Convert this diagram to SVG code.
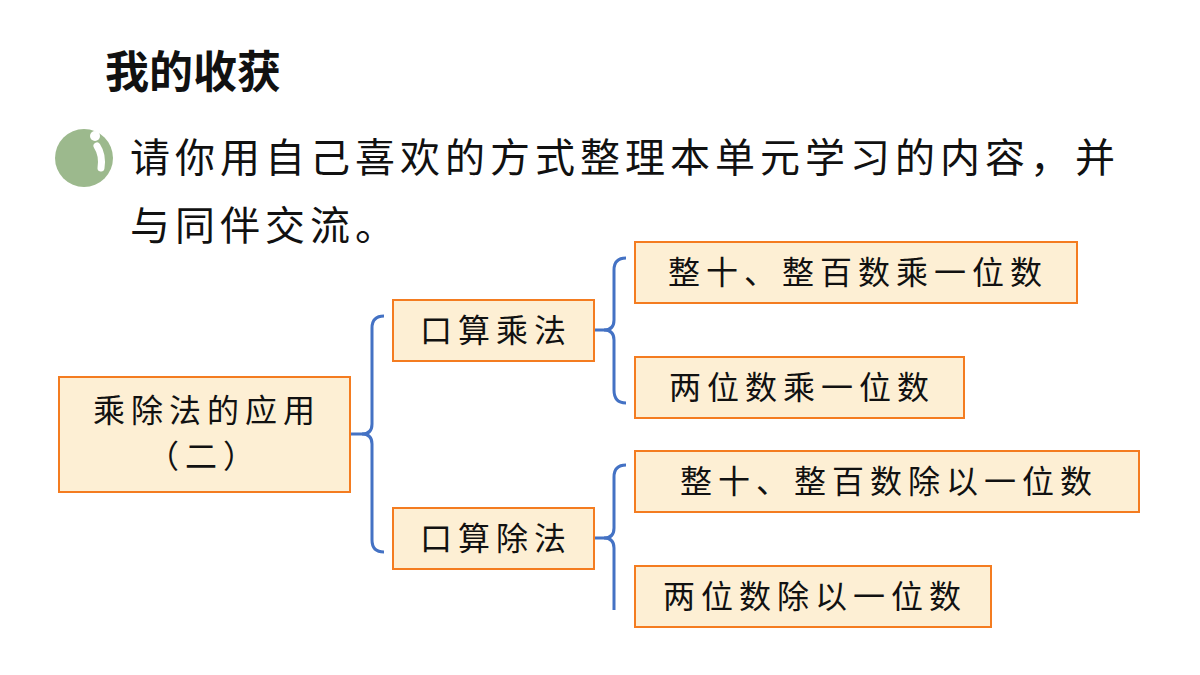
<svg xmlns="http://www.w3.org/2000/svg" width="1200" height="675" viewBox="0 0 1200 675">
<style>
.b{fill:#fdefd4;stroke:#f47c20;stroke-width:2}
.t{font-family:"Noto Sans CJK SC",sans-serif;font-size:32px;fill:#111;text-anchor:middle;letter-spacing:6px}
.c{fill:none;stroke:#4472c4;stroke-width:3}
</style>
<rect width="1200" height="675" fill="#fff"/>
<text x="105" y="88" font-family="Noto Sans CJK SC,sans-serif" font-size="44" font-weight="bold" fill="#111">我的收获</text>
<circle cx="84" cy="158" r="29" fill="#9cb98d"/>
<circle cx="95" cy="136" r="5" fill="#fff"/>
<path d="M97 146 Q103 155 101 168" stroke="#fff" stroke-width="7" stroke-linecap="round" fill="none"/>
<g font-family="Noto Sans CJK SC,sans-serif" font-size="40" fill="#111"><text x="130" y="172" letter-spacing="5">请你用自己喜欢的方式整理本单元学习的内容，并</text><text x="130" y="240" letter-spacing="5">与同伴交流。</text></g>
<g id="connectors">
<path class="c" d="M350 434 H362 Q372 434 372 424 V328 Q372 316 384 316"/>
<path class="c" d="M362 434 Q372 434 372 444 V540 Q372 552 384 552"/>
<path class="c" d="M594 330 H604 Q614 330 614 320 V270 Q614 258 626 258"/>
<path class="c" d="M604 330 Q614 330 614 340 V390 Q614 403 626 403"/>
<path class="c" d="M594 538 H604 Q614 538 614 528 V477 Q614 465 626 465"/>
<path class="c" d="M604 538 Q614 538 614 548 V610"/>
</g>
<g id="root"><rect class="b" x="59" y="377" width="291" height="115"/><text class="t" x="207" y="422">乘除法的应用</text><text class="t" x="204" y="468">（二）</text></g>
<g id="mul"><rect class="b" x="393" y="300" width="201" height="61"/><text class="t" x="496" y="342">口算乘法</text></g>
<g id="div"><rect class="b" x="393" y="508" width="201" height="61"/><text class="t" x="496" y="550">口算除法</text></g>
<g id="m1"><rect class="b" x="635" y="242" width="442" height="61"/><text class="t" x="858" y="284">整十、整百数乘一位数</text></g>
<g id="m2"><rect class="b" x="635" y="357" width="329" height="61"/><text class="t" x="802" y="399">两位数乘一位数</text></g>
<g id="d1"><rect class="b" x="635" y="451" width="504" height="61"/><text class="t" x="889" y="493">整十、整百数除以一位数</text></g>
<g id="d2"><rect class="b" x="635" y="566" width="356" height="61"/><text class="t" x="815" y="608">两位数除以一位数</text></g>
</svg>
